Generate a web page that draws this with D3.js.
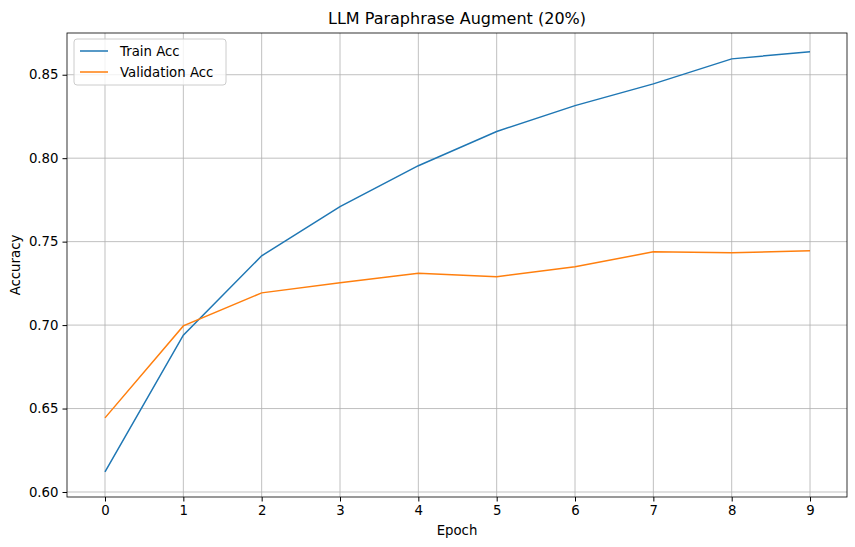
<!DOCTYPE html>
<html><head><meta charset="utf-8">
<script src="https://cdn.jsdelivr.net/npm/d3@7"></script>
<style>body{margin:0;background:#fff;font-family:"DejaVu Sans",sans-serif;}</style>
</head><body><svg id="c" width="855" height="547"></svg>
<script>
var epochs = [0,1,2,3,4,5,6,7,8,9];
var trainAcc = [0.612,0.694,0.7415,0.771,0.7955,0.816,0.8315,0.8445,0.8595,0.8638];
var valAcc = [0.6444,0.6995,0.7193,0.7253,0.731,0.729,0.7349,0.7439,0.7433,0.7445];
var yTicks = [0.60,0.65,0.70,0.75,0.80,0.85];

var svg = d3.select('#c');
var L = 67, R = 847, T = 33, B = 497;
var x = d3.scaleLinear().domain([-0.485,9.472]).range([L,R]);
var y = d3.scaleLinear().domain([0.597,0.875]).range([B,T]);

// grid
svg.append('g').selectAll('line').data(epochs).enter().append('line')
  .attr('x1',d=>x(d)).attr('x2',d=>x(d)).attr('y1',T).attr('y2',B)
  .attr('stroke','#b0b0b0').attr('stroke-width',0.8);
svg.append('g').selectAll('line').data(yTicks).enter().append('line')
  .attr('x1',L).attr('x2',R).attr('y1',d=>y(d)).attr('y2',d=>y(d))
  .attr('stroke','#b0b0b0').attr('stroke-width',0.8);

var xa = svg.append('g').attr('transform','translate(0,'+B+')')
  .call(d3.axisBottom(x).tickValues(epochs).tickSize(4.5).tickPadding(4).tickFormat(d3.format('d')));
var ya = svg.append('g').attr('transform','translate('+L+',0)')
  .call(d3.axisLeft(y).tickValues(yTicks).tickSize(4.5).tickPadding(4).tickFormat(d3.format('.2f')));
[xa,ya].forEach(function(a){
  a.select('.domain').remove();
  a.selectAll('text').attr('font-size',13.3).attr('fill','#000').attr('font-family','DejaVu Sans');
  a.selectAll('line').attr('stroke','#000');
});
svg.append('rect').attr('x',L).attr('y',T).attr('width',R-L).attr('height',B-T)
  .attr('fill','none').attr('stroke','#000').attr('stroke-width',0.8);

var line = d3.line().x((d,i)=>x(epochs[i])).y(d=>y(d));
svg.append('path').datum(trainAcc).attr('d',line).attr('fill','none').attr('stroke','#1f77b4').attr('stroke-width',1.5);
svg.append('path').datum(valAcc).attr('d',line).attr('fill','none').attr('stroke','#ff7f0e').attr('stroke-width',1.5);

svg.append('text').attr('x',(L+R)/2).attr('y',T-9).attr('text-anchor','middle').attr('font-size',16).text('LLM Paraphrase Augment (20%)');
svg.append('text').attr('x',(L+R)/2).attr('y',B+38).attr('text-anchor','middle').attr('font-size',13.3).text('Epoch');
svg.append('text').attr('transform','translate(20,'+((T+B)/2)+') rotate(-90)').attr('text-anchor','middle').attr('font-size',13.3).text('Accuracy');

// legend
var lg = svg.append('g').attr('transform','translate('+(L+7)+','+(T+6)+')');
lg.append('rect').attr('width',152).attr('height',46).attr('rx',3).attr('fill','#fff').attr('fill-opacity',0.8).attr('stroke','#ccc');
[['Train Acc','#1f77b4'],['Validation Acc','#ff7f0e']].forEach(function(s,i){
  var yy = 12 + i*21;
  lg.append('line').attr('x1',6).attr('x2',34).attr('y1',yy).attr('y2',yy).attr('stroke',s[1]).attr('stroke-width',1.5);
  lg.append('text').attr('x',46).attr('y',yy+5).attr('font-size',13.3).text(s[0]);
});
</script></body></html>
